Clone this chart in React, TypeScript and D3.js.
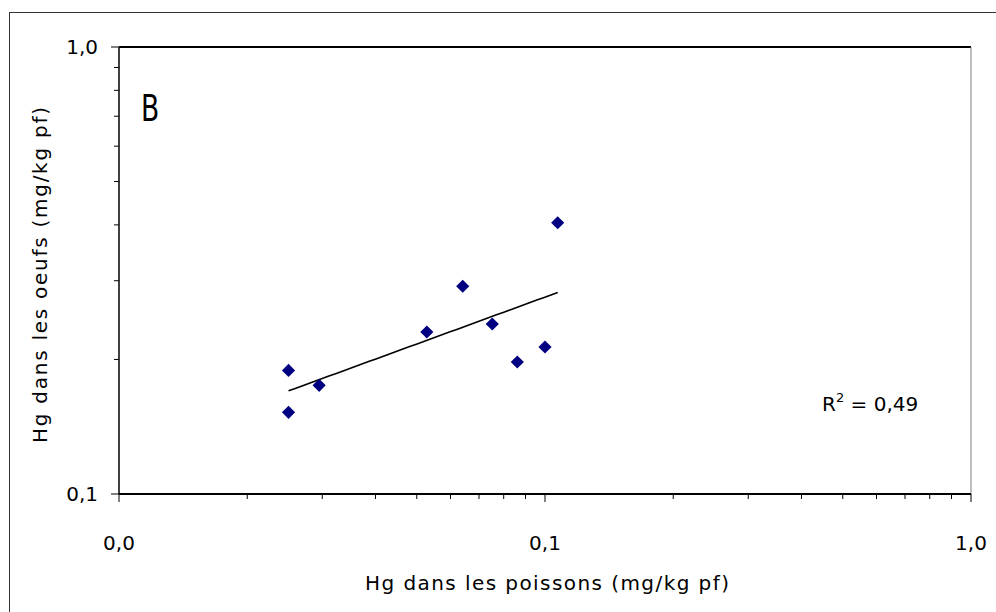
import React from "react";
import * as d3 from "d3";

const fishHg = [0.025, 0.025, 0.0295, 0.0528, 0.0641, 0.0752, 0.0861, 0.1, 0.1071];
const eggHg = [0.189, 0.1523, 0.175, 0.2304, 0.2915, 0.240, 0.1974, 0.2132, 0.4045];
const xTickValues = [0.01, 0.1, 1];
const xTickLabels = ["0,0", "0,1", "1,0"];
const yTickValues = [0.1, 1];
const yTickLabels = ["0,1", "1,0"];
const panelLabel = "B";
const r2Label = "0,49";

const W = 996;
const H = 612;
const M = { left: 119, right: 971, top: 47, bottom: 494 };
const FONT = "'Comic Sans MS', 'DejaVu Sans', sans-serif";

export default function App() {
  const x = d3.scaleLog().domain([0.01, 1]).range([M.left, M.right]);
  const y = d3.scaleLog().domain([0.1, 1]).range([M.bottom, M.top]);

  // power trend line: least squares in log-log space
  const lx = fishHg.map(Math.log10);
  const ly = eggHg.map(Math.log10);
  const mx = d3.mean(lx) as number;
  const my = d3.mean(ly) as number;
  let sxy = 0, sxx = 0;
  lx.forEach((v, i) => { sxy += (v - mx) * (ly[i] - my); sxx += (v - mx) ** 2; });
  const b = sxy / sxx;
  const a = my - b * mx;
  const [xmin, xmax] = d3.extent(fishHg) as [number, number];
  const trendPts: [number, number][] = d3.range(0, 41).map((i) => {
    const xv = Math.pow(10, Math.log10(xmin) + (Math.log10(xmax) - Math.log10(xmin)) * i / 40);
    return [x(xv), y(Math.pow(10, a + b * Math.log10(xv)))];
  });
  const line = d3.line();

  const xMinor: number[] = [];
  [0.01, 0.1].forEach((d) => { for (let k = 2; k <= 9; k++) xMinor.push(d * k); });
  const yMinor: number[] = [];
  for (let k = 2; k <= 9; k++) yMinor.push(0.1 * k);

  const diamond = d3.symbol().type(d3.symbolDiamond2).size(110)() as string;

  return (
    <svg width={W} height={H} style={{ position: "fixed", left: 0, top: 0, background: "#fff" }} fontFamily={FONT}>
      <rect x={9.5} y={12.5} width={W} height={H} fill="#fff" stroke="#333" strokeWidth={1} />
      {/* plot frame */}
      <line x1={M.left} x2={M.right} y1={M.top} y2={M.top} stroke="#000" strokeWidth={2} />
      <line x1={M.right} x2={M.right} y1={M.top} y2={M.bottom} stroke="#808080" strokeWidth={1} />
      {/* y axis */}
      <line x1={M.left} x2={M.left} y1={M.top} y2={M.bottom} stroke="#000" strokeWidth={1.5} />
      {yMinor.map((v) => (
        <line key={"ym" + v} x1={M.left - 5} x2={M.left} y1={y(v)} y2={y(v)} stroke="#000" strokeWidth={1} />
      ))}
      {yTickValues.map((v, i) => (
        <g key={"yt" + v}>
          <line x1={M.left - 8} x2={M.left} y1={y(v)} y2={y(v)} stroke="#000" strokeWidth={1} />
          <text x={98} y={y(v)} dy="0.35em" textAnchor="end" fontSize={20}>{yTickLabels[i]}</text>
        </g>
      ))}
      {/* x axis */}
      <line x1={M.left} x2={M.right} y1={M.bottom} y2={M.bottom} stroke="#000" strokeWidth={2} />
      {xMinor.map((v) => (
        <line key={"xm" + v} x1={x(v)} x2={x(v)} y1={M.bottom} y2={M.bottom + 5} stroke="#000" strokeWidth={1} />
      ))}
      {xTickValues.map((v, i) => (
        <g key={"xt" + v}>
          <line x1={x(v)} x2={x(v)} y1={M.bottom} y2={M.bottom + 8} stroke="#000" strokeWidth={1} />
          <text x={x(v)} y={543} dy="0.35em" textAnchor="middle" fontSize={20}>{xTickLabels[i]}</text>
        </g>
      ))}
      {/* axis titles */}
      <text x={365} y={583} dy="0.35em" fontSize={20} textLength={364} lengthAdjust="spacing">Hg dans les poissons (mg/kg pf)</text>
      <text transform={`translate(40,443) rotate(-90)`} dy="0.35em" fontSize={20} textLength={336} lengthAdjust="spacing">
        Hg dans les oeufs (mg/kg pf)
      </text>
      {/* panel label */}
      <text transform="translate(141,121) scale(0.72,1)" fontSize={37}>{panelLabel}</text>
      {/* trend */}
      <path d={line(trendPts) as string} fill="none" stroke="#000" strokeWidth={1.6} />
      {/* points */}
      {fishHg.map((v, i) => (
        <path key={"p" + i} d={diamond} transform={`translate(${x(v)},${y(eggHg[i])})`} fill="#000080" />
      ))}
      {/* R2 */}
      <text x={822} y={411} fontSize={20}>
        R<tspan dy={-9} fontSize={13}>2</tspan><tspan dy={9}> = {r2Label}</tspan>
      </text>
    </svg>
  );
}
